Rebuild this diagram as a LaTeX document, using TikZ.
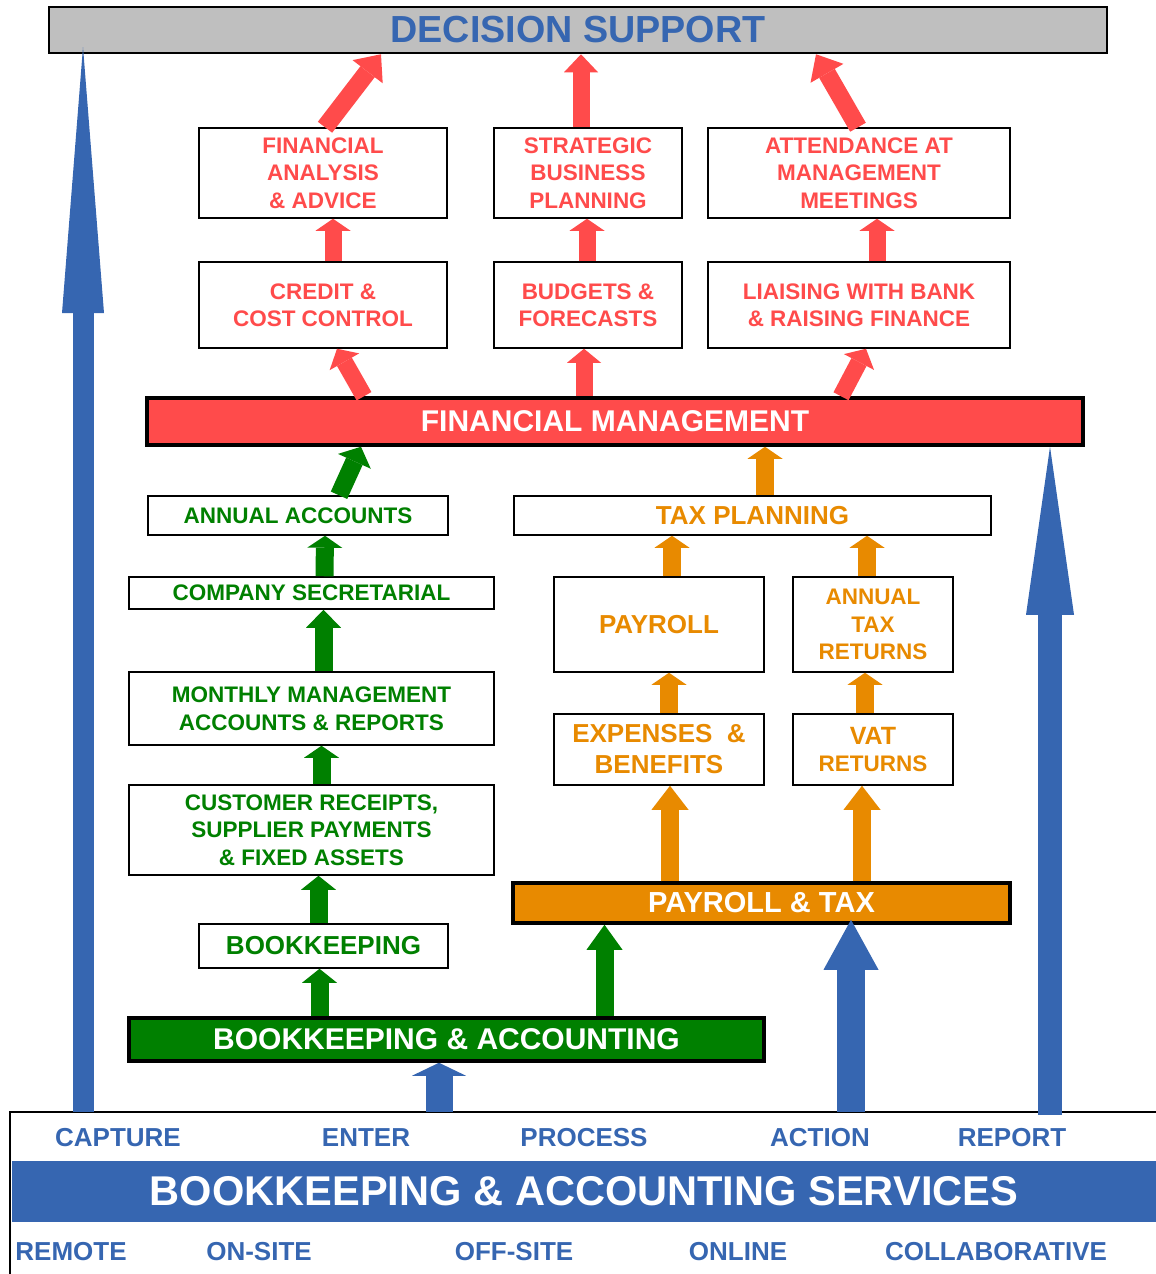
\documentclass[tikz,border=0pt]{standalone}
\usepackage{fontspec}
\setmainfont{Liberation Sans}
\usetikzlibrary{arrows.meta}
\definecolor{dsgray}{RGB}{191,191,191}
\definecolor{fmred}{RGB}{255,75,75}
\definecolor{bagreen}{RGB}{0,128,0}
\definecolor{ptorange}{RGB}{232,138,0}
\definecolor{svcblue}{RGB}{54,102,177}

\begin{document}
\begin{tikzpicture}[x=1pt,y=-1pt,
    every node/.style={inner sep=0pt, align=center},
    small/.style={font=\bfseries\fontsize{22.5}{27.5}\selectfont},
    large/.style={font=\bfseries\fontsize{26}{31}\selectfont},
    box/.style 2 args={draw, line width=1.5pt, fill=white, minimum width=#1pt, minimum height=#2pt},
    bar/.style 2 args={draw, line width=3.5pt, text=white, font=\bfseries\fontsize{30}{36}\selectfont, minimum width=#1pt, minimum height=#2pt},
    blockarrow/.style n args={4}{draw=#1, line width=#2pt, -{Triangle[width=#3pt, length=#4pt, line width=0pt]}},
    svclabel/.style={text=svcblue, font=\bfseries\fontsize{26}{30}\selectfont}]
    \useasboundingbox (0,0) rectangle (1156,1274);

        \node (ds) at (578,30) [box={1058}{46}, fill=dsgray, line width=2.5pt, text=svcblue, font=\bfseries\fontsize{37.7}{40}\selectfont] {DECISION SUPPORT};

        \node (fa) at (323,173) [box={248}{90}, small, text=fmred] {FINANCIAL\\ANALYSIS\\\& ADVICE};
        \node (strategic) at (588,173) [box={188}{90}, small, text=fmred] {STRATEGIC\\BUSINESS\\PLANNING};
        \node (attend) at (859,173) [box={302}{90}, small, text=fmred] {ATTENDANCE AT\\MANAGEMENT\\MEETINGS};
        \node (credit) at (323,305) [box={248}{86}, small, text=fmred] {CREDIT \&\\COST CONTROL};
        \node (budgets) at (588,305) [box={188}{86}, small, text=fmred] {BUDGETS \&\\FORECASTS};
        \node (liaise) at (859,305) [box={302}{86}, small, text=fmred] {LIAISING WITH BANK\\\& RAISING FINANCE};
        \node (fm) at (615,421.5) [bar={936}{47}, fill=fmred] {FINANCIAL MANAGEMENT};

        \node (annual) at (298,515.5) [box={300}{39}, small, text=bagreen] {ANNUAL ACCOUNTS};
        \node (compsec) at (311.5,593) [box={365}{32}, small, text=bagreen] {COMPANY SECRETARIAL};
        \node (monthly) at (311.5,708.5) [box={365}{73}, small, text=bagreen] {MONTHLY MANAGEMENT\\ACCOUNTS \& REPORTS};
        \node (cust) at (311.5,830) [box={365}{90}, small, text=bagreen] {CUSTOMER RECEIPTS,\\SUPPLIER PAYMENTS\\\& FIXED ASSETS};
        \node (bk) at (323.5,946) [box={249}{44}, large, text=bagreen] {BOOKKEEPING};
        \node (ba) at (446.5,1039.5) [bar={635}{43}, fill=bagreen] {BOOKKEEPING \& ACCOUNTING};

        \node (taxplan) at (752.5,515.5) [box={477}{39}, large, text=ptorange] {TAX PLANNING};
        \node (payroll) at (659,624.5) [box={210}{95}, large, text=ptorange] {PAYROLL};
        \node (anntax) at (873,624.5) [box={160}{95}, small, text=ptorange] {ANNUAL\\TAX\\RETURNS};
        \node (exp) at (659,749.5) [box={210}{71}, large, text=ptorange] {EXPENSES\ \ \&\\BENEFITS};
        \node (vat) at (873,749.5) [box={160}{71}, small, text=ptorange] {{\fontsize{25}{29}\selectfont VAT}\\RETURNS};
        \node (pt) at (761.5,903) [bar={497}{40}, fill=ptorange, font=\bfseries\fontsize{29}{34}\selectfont] {PAYROLL \& TAX};

        \draw[line width=2pt] (1160,1112) -- (10,1112) -- (10,1280);
        \node (services) at (584,1191.5) [fill=svcblue, minimum width=1144pt, minimum height=61pt, text=white, font=\bfseries\fontsize{41.6}{44}\selectfont] {BOOKKEEPING \& ACCOUNTING SERVICES};
        \node (capture) at (118,1138) [svclabel] {CAPTURE};
        \node (enter) at (366,1138) [svclabel] {ENTER};
        \node (process) at (584,1138) [svclabel] {PROCESS};
        \node (action) at (820,1138) [svclabel] {ACTION};
        \node (report) at (1012,1138) [svclabel] {REPORT};
        \node (remote) at (71,1252) [svclabel] {REMOTE};
        \node (onsite) at (259,1252) [svclabel] {ON-SITE};
        \node (offsite) at (514,1252) [svclabel] {OFF-SITE};
        \node (online) at (738,1252) [svclabel] {ONLINE};
        \node (collab) at (996,1252) [svclabel] {COLLABORATIVE};

        \coordinate (capin) at (83,1112);
        \coordinate (capout) at (83,47);
        \coordinate (enterin) at (439,1112);
        \coordinate (actionin) at (851,1112);
        \coordinate (reportin) at (1050,1115);

        \draw[blockarrow={fmred}{17}{34}{15}] ([xshift=-251pt]fm.north) -- ([xshift=14pt]credit.south);
        \draw[blockarrow={fmred}{17}{34}{14}] ([xshift=-4pt]fm.north -| budgets.south) -- ([xshift=-4pt]budgets.south);
        \draw[blockarrow={fmred}{17}{34}{15}] ([xshift=226pt]fm.north) -- ([xshift=7pt]liaise.south);
        \draw[blockarrow={fmred}{17}{35}{12}] ([xshift=10pt]credit.north) -- ([xshift=10pt]fa.south);
        \draw[blockarrow={fmred}{17}{35}{12}] ([xshift=-1pt]budgets.north) -- ([xshift=-1pt]strategic.south);
        \draw[blockarrow={fmred}{17}{35}{12}] ([xshift=18pt]liaise.north) -- ([xshift=18pt]attend.south);
        \draw[blockarrow={fmred}{18}{38}{22}] ([xshift=2pt]fa.north) -- ([xshift=-197pt]ds.south);
        \draw[blockarrow={fmred}{17}{34}{18}] ([xshift=-7pt]strategic.north) -- ([xshift=3pt]ds.south);
        \draw[blockarrow={fmred}{18}{38}{22}] ([xshift=-1pt]attend.north) -- ([xshift=238pt]ds.south);

        \draw[blockarrow={bagreen}{18}{35}{14}] ([xshift=-127pt]ba.north) -- ([xshift=-4pt]bk.south);
        \draw[blockarrow={bagreen}{18}{35}{14}] ([xshift=-5pt]bk.north) -- ([xshift=7pt]cust.south);
        \draw[blockarrow={bagreen}{18}{35}{12}] ([xshift=10pt]cust.north) -- ([xshift=10pt]monthly.south);
        \draw[blockarrow={bagreen}{18}{35}{18}] ([xshift=12pt]monthly.north) -- ([xshift=12pt]compsec.south);
        \draw[blockarrow={bagreen}{18}{35}{12}] ([xshift=13pt]compsec.north) -- ([xshift=27pt]annual.south);
        \draw[blockarrow={bagreen}{18}{36}{16}] ([xshift=41pt]annual.north) -- ([xshift=-254pt]fm.south);
        \draw[blockarrow={bagreen}{18}{36}{25}] ([xshift=158pt]ba.north) -- ([xshift=-157pt]pt.south);

        \draw[blockarrow={ptorange}{18}{37}{24}] ([xshift=-91.5pt]pt.north) -- ([xshift=11pt]exp.south);
        \draw[blockarrow={ptorange}{18}{37}{24}] ([xshift=100.5pt]pt.north) -- ([xshift=-11pt]vat.south);
        \draw[blockarrow={ptorange}{18}{35}{12}] ([xshift=10pt]exp.north) -- ([xshift=10pt]payroll.south);
        \draw[blockarrow={ptorange}{18}{35}{12}] ([xshift=-8pt]vat.north) -- ([xshift=-8pt]anntax.south);
        \draw[blockarrow={ptorange}{18}{35}{12}] ([xshift=13pt]payroll.north) -- ([xshift=-80.5pt]taxplan.south);
        \draw[blockarrow={ptorange}{18}{35}{12}] ([xshift=-6pt]anntax.north) -- ([xshift=114.5pt]taxplan.south);
        \draw[blockarrow={ptorange}{18}{35}{12}] ([xshift=12.5pt]taxplan.north) -- ([xshift=150pt]fm.south);

        \draw[blockarrow={svcblue}{21}{42}{266}] (capin) -- (capout);
        \draw[blockarrow={svcblue}{27}{54}{13}] (enterin) -- (enterin |- ba.south);
        \draw[blockarrow={svcblue}{28}{55}{50}] (actionin) -- ([yshift=5pt]actionin |- pt.south);
        \draw[blockarrow={svcblue}{24}{48}{168}] (reportin) -- (reportin |- fm.south);
\end{tikzpicture}
\end{document}
